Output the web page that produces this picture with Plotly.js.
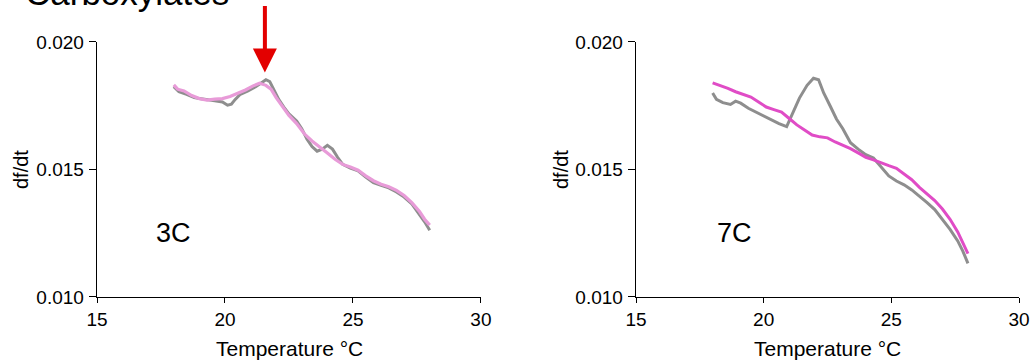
<!DOCTYPE html>
<html><head><meta charset="utf-8">
<script src="https://cdn.plot.ly/plotly-3.0.1.min.js"></script>
<style>html,body{margin:0;padding:0;background:#fff}#chart{width:1032px;height:364px}</style>
</head><body><div id="chart"></div>
<script>
// Panel 3C
const temp3C_gray = [18.0,18.2,18.5,18.8,19.0,19.3,19.6,19.9,20.1,20.25,20.4,20.6,20.9,21.2,21.45,21.6,21.75,21.9,22.1,22.3,22.5,22.8,23.0,23.2,23.4,23.6,23.8,24.0,24.2,24.4,24.6,24.9,25.2,25.5,25.8,26.1,26.4,26.7,27.0,27.3,27.6,27.8,28.0];
const dfdt3C_gray = [0.01825,0.01805,0.01795,0.01782,0.01778,0.01775,0.01770,0.01765,0.01752,0.01756,0.01775,0.01795,0.01808,0.01825,0.01840,0.01852,0.01845,0.01815,0.01775,0.01745,0.01718,0.01690,0.01660,0.01620,0.01590,0.01572,0.01580,0.01595,0.01580,0.01548,0.01520,0.01505,0.01495,0.01470,0.01448,0.01438,0.01428,0.01412,0.01392,0.01365,0.01325,0.01295,0.01262];
const temp3C_pink = [18.0,18.15,18.4,18.7,19.0,19.3,19.6,19.9,20.2,20.5,20.8,21.1,21.35,21.6,21.8,22.0,22.2,22.5,22.8,23.1,23.4,23.7,24.0,24.3,24.6,24.9,25.2,25.5,25.8,26.1,26.4,26.7,27.0,27.3,27.6,27.8,28.0];
const dfdt3C_pink = [0.01832,0.01815,0.01808,0.01790,0.01778,0.01772,0.01776,0.01778,0.01786,0.01798,0.01812,0.01828,0.01838,0.01830,0.01815,0.01782,0.01752,0.01712,0.01680,0.01640,0.01612,0.01590,0.01565,0.01540,0.01520,0.01510,0.01497,0.01475,0.01456,0.01442,0.01432,0.01418,0.01398,0.01370,0.01335,0.01305,0.01282];
// Panel 7C
const temp7C_gray = [18.0,18.15,18.4,18.7,18.9,19.1,19.4,19.7,20.0,20.3,20.6,20.9,21.1,21.4,21.7,21.95,22.15,22.35,22.6,22.85,23.1,23.4,23.7,24.0,24.3,24.6,24.9,25.2,25.5,25.8,26.1,26.4,26.7,27.0,27.3,27.6,27.8,28.0];
const dfdt7C_gray = [0.01800,0.01775,0.01762,0.01755,0.01768,0.01760,0.01740,0.01725,0.01708,0.01692,0.01680,0.01668,0.01715,0.01780,0.01830,0.01858,0.01852,0.01800,0.01750,0.01698,0.01660,0.01605,0.01580,0.01558,0.01545,0.01510,0.01475,0.01455,0.01440,0.01420,0.01396,0.01370,0.01343,0.01305,0.01265,0.01220,0.01180,0.01132];
const temp7C_pink = [18.0,18.3,18.6,18.9,19.2,19.5,19.8,20.1,20.4,20.7,21.0,21.3,21.6,21.9,22.2,22.5,22.8,23.1,23.4,23.7,24.0,24.3,24.6,24.9,25.2,25.5,25.8,26.1,26.4,26.7,27.0,27.3,27.6,27.8,28.0];
const dfdt7C_pink = [0.01840,0.01830,0.01818,0.01805,0.01795,0.01784,0.01765,0.01745,0.01735,0.01725,0.01700,0.01675,0.01655,0.01635,0.01628,0.01624,0.01608,0.01595,0.01582,0.01565,0.01548,0.01538,0.01525,0.01515,0.01505,0.01482,0.01460,0.01430,0.01402,0.01378,0.01345,0.01305,0.01255,0.01215,0.01170];

const xTicks = [15,20,25,30];
const yTicks = [0.010,0.015,0.020];
const panelLabels = ["3C","7C"];
const figTitle = "Carboxylates";
const xTitle = "Temperature °C";
const yTitle = "df/dt";
const peak3C = [21.56, 0.0188];

const FONT = "Liberation Sans, Arial, sans-serif";
const GRAY = "#8e8e8e", PINK1 = "#e89bd8", PINK2 = "#e04cc6";

const traces = [
  {x: temp3C_gray, y: dfdt3C_gray, xaxis:"x", yaxis:"y", mode:"lines", line:{color:GRAY,width:3}},
  {x: temp3C_pink, y: dfdt3C_pink, xaxis:"x", yaxis:"y", mode:"lines", line:{color:PINK1,width:3.2}},
  {x: temp7C_gray, y: dfdt7C_gray, xaxis:"x2", yaxis:"y2", mode:"lines", line:{color:GRAY,width:3}},
  {x: temp7C_pink, y: dfdt7C_pink, xaxis:"x2", yaxis:"y2", mode:"lines", line:{color:PINK2,width:3}}
];

function xax(domain, anchor){
  return {domain, anchor, range:[15,30], tickvals:xTicks, ticks:"outside", ticklen:5, tickcolor:"#000",
    showline:true, linecolor:"#000", linewidth:1.3, showgrid:false, zeroline:false,
    tickfont:{family:FONT,size:19,color:"#000"}};
}
function yax(domain, anchor){
  return {domain, anchor, range:[0.010,0.020], tickvals:yTicks, tickformat:".3f", ticks:"outside", ticklen:7, tickcolor:"#000",
    showline:true, linecolor:"#000", linewidth:1.3, showgrid:false, zeroline:false,
    tickfont:{family:FONT,size:19,color:"#000"}, ticklabelstandoff:1};
}

const titleFont = {family:FONT,size:21,color:"#000"};
const layout = {
  width:1032, height:364, margin:{l:0,r:0,t:0,b:0}, showlegend:false,
  paper_bgcolor:"#fff", plot_bgcolor:"#fff",
  xaxis: xax([0.094,0.466],"y"),
  yaxis: yax([0.18407,0.88462],"x"),
  xaxis2: xax([0.6163,0.9874],"y2"),
  yaxis2: yax([0.18407,0.88462],"x2"),
  annotations:[
    {text:figTitle, xref:"paper", yref:"paper", x:0.022, y:1-14/364, xanchor:"left", yanchor:"bottom", showarrow:false, font:{family:FONT,size:35,color:"#000"}},
    {text:xTitle, xref:"paper", yref:"paper", x:289/1032, y:1-348/364, xanchor:"center", yanchor:"middle", showarrow:false, font:titleFont},
    {text:xTitle, xref:"paper", yref:"paper", x:827/1032, y:1-348/364, xanchor:"center", yanchor:"middle", showarrow:false, font:titleFont},
    {text:yTitle, xref:"paper", yref:"paper", x:21/1032, y:1-170/364, xanchor:"center", yanchor:"middle", textangle:-90, showarrow:false, font:{family:FONT,size:20,color:"#000"}},
    {text:yTitle, xref:"paper", yref:"paper", x:561/1032, y:1-170/364, xanchor:"center", yanchor:"middle", textangle:-90, showarrow:false, font:{family:FONT,size:20,color:"#000"}},
    {text:panelLabels[0], xref:"x", yref:"y", x:18.0, y:0.0125, showarrow:false, font:{family:FONT,size:27,color:"#000"}},
    {text:panelLabels[1], xref:"x2", yref:"y2", x:18.85, y:0.0125, showarrow:false, font:{family:FONT,size:27,color:"#000"}},
    {text:"", xref:"x", yref:"y", x:peak3C[0], y:peak3C[1], ax:0, ay:-68, showarrow:true, arrowhead:2, arrowsize:1.2, arrowwidth:4, arrowcolor:"#e30000", standoff:0}
  ]
};

Plotly.newPlot("chart", traces, layout, {displayModeBar:false, staticPlot:true});
</script></body></html>
